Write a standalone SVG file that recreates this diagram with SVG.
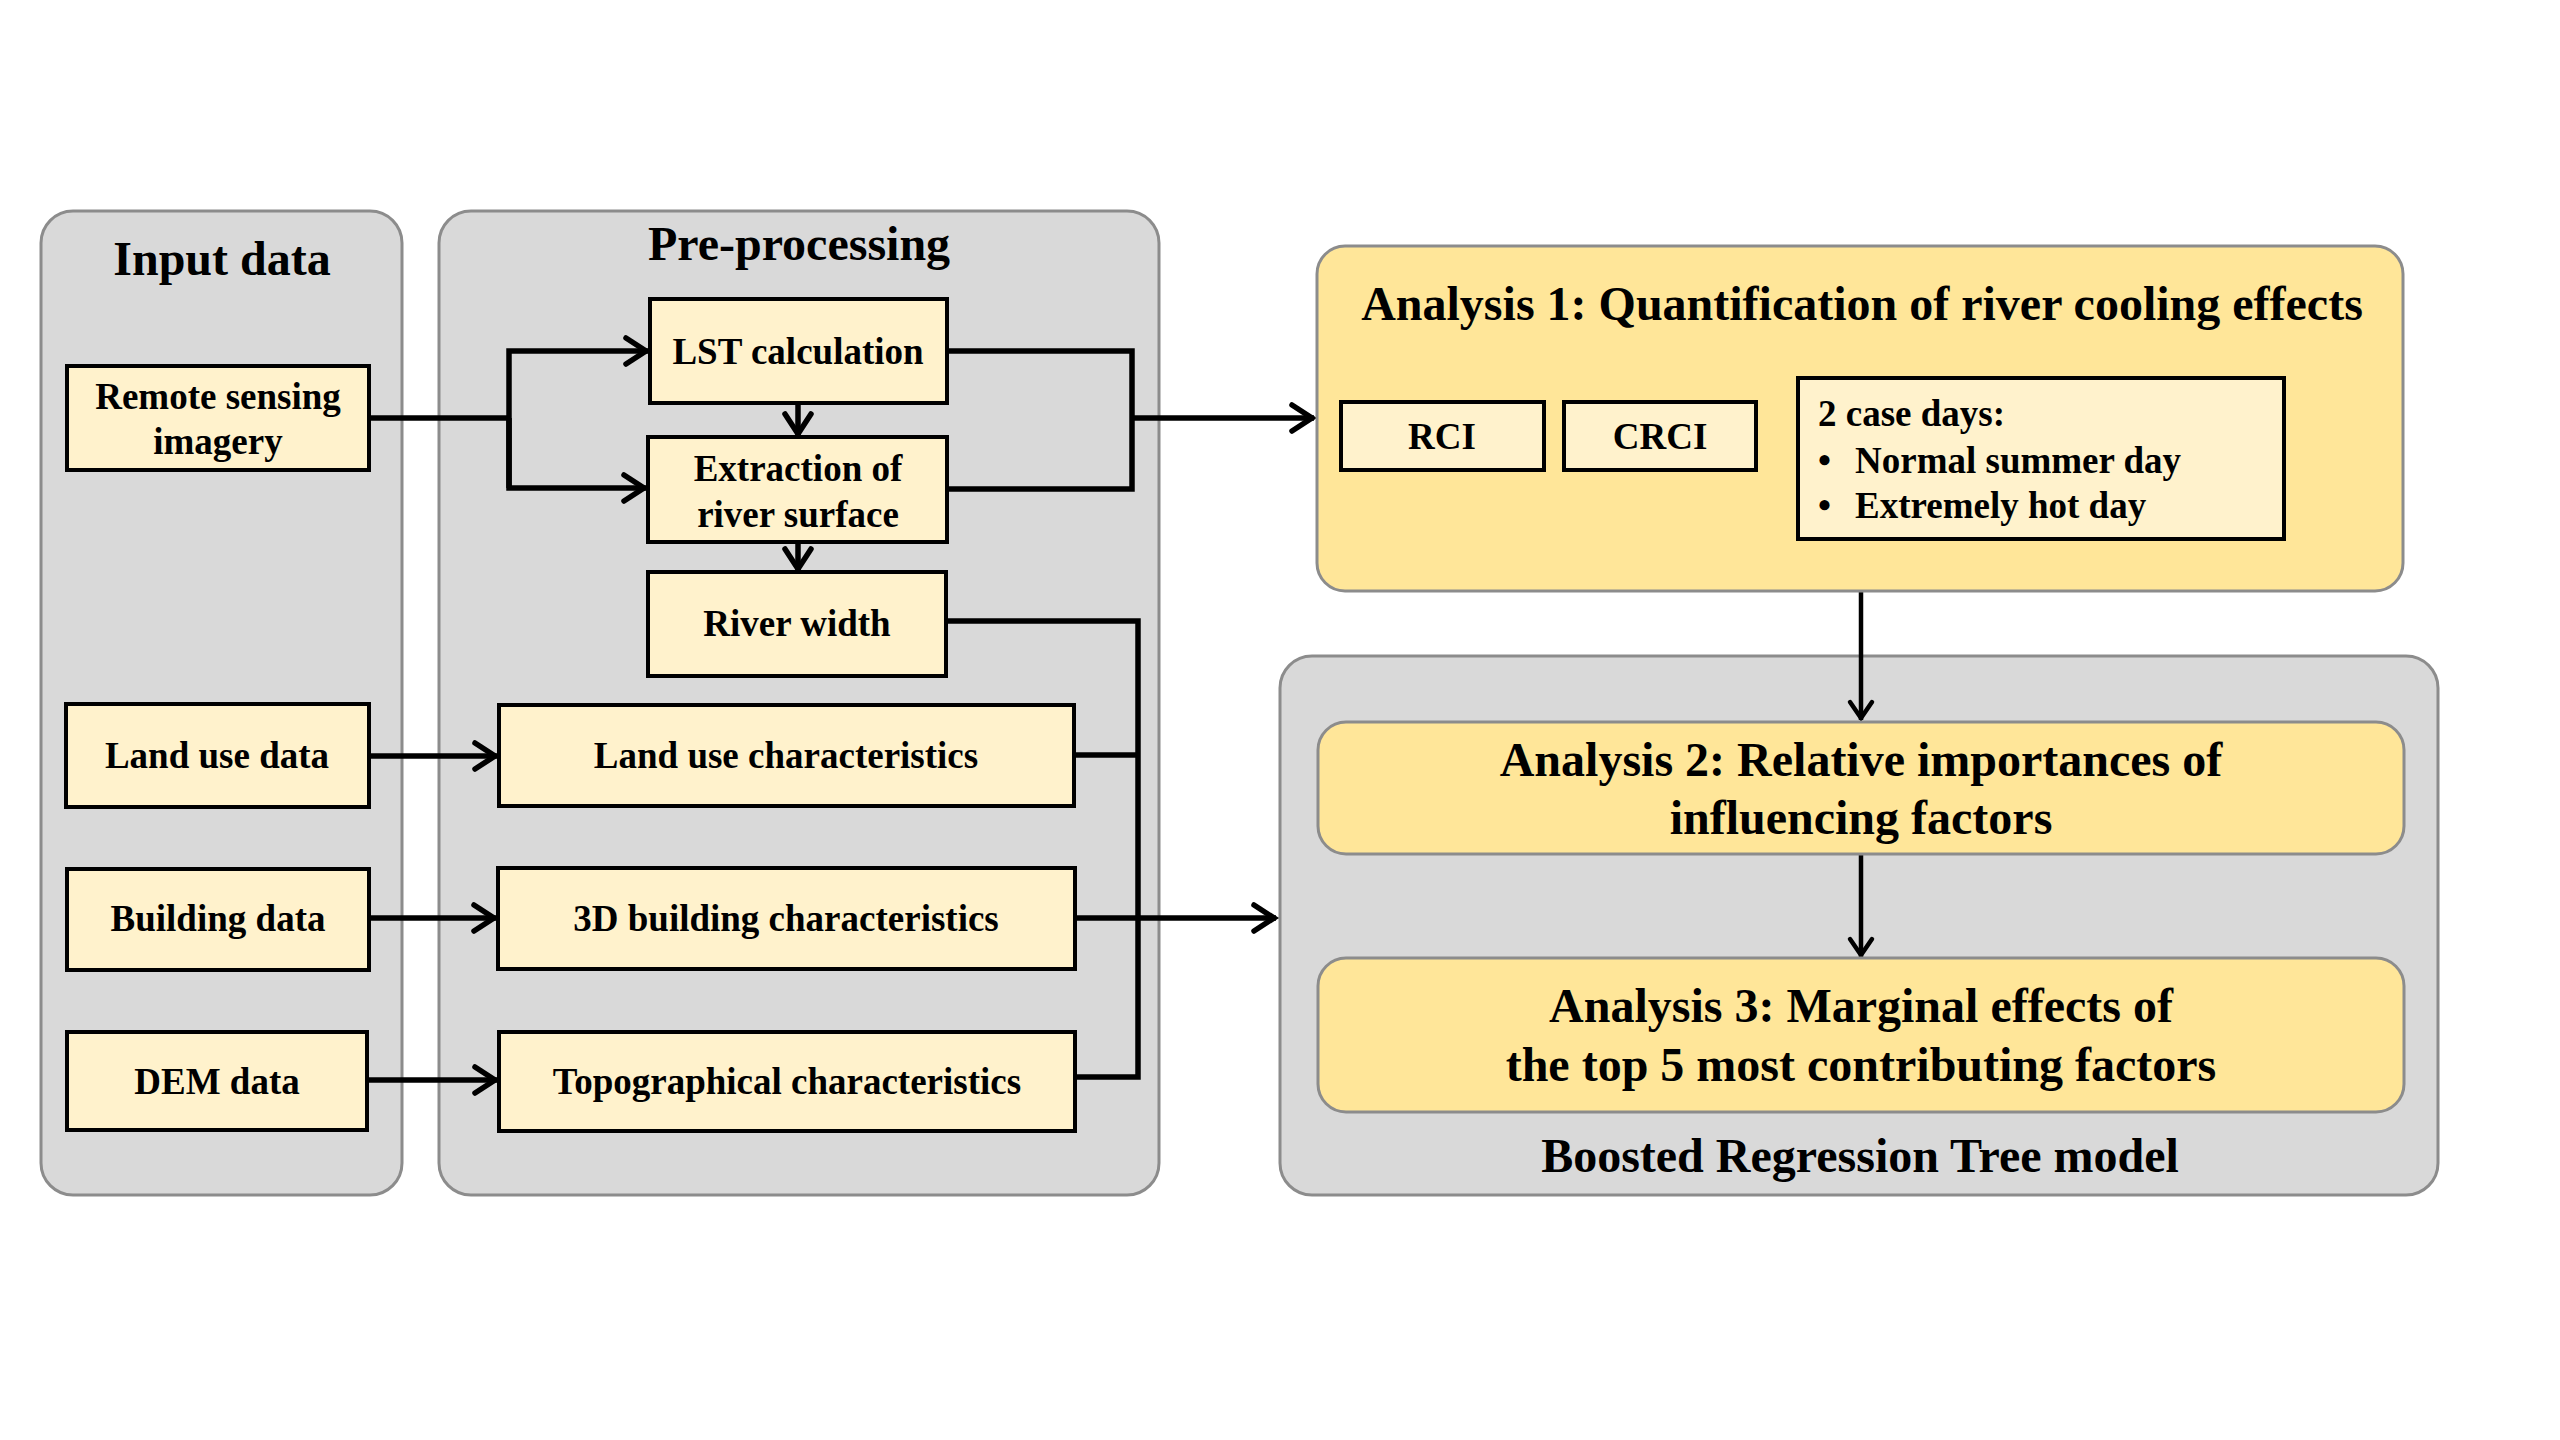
<svg xmlns="http://www.w3.org/2000/svg" width="2560" height="1440" viewBox="0 0 2560 1440">
<defs>
<style>
text{font-family:"Liberation Serif","Times New Roman",serif;font-weight:bold;fill:#000;}
.panel{fill:#d9d9d9;stroke:#8c8c8c;stroke-width:3;}
.gold{fill:#ffe699;stroke:#8c8c8c;stroke-width:3;}
.box{fill:#fff2cc;stroke:#000;stroke-width:4;}
.t47{font-size:48px;text-anchor:middle;}
.t37{font-size:37px;text-anchor:middle;}
.tl{font-size:37px;}
.c{fill:none;stroke:#000;stroke-width:5.5;stroke-linejoin:miter;}
.cs{fill:none;stroke:#000;stroke-width:4.5;}
</style>
<marker id="ah" markerUnits="userSpaceOnUse" markerWidth="40" markerHeight="40" refX="27" refY="16" orient="auto" overflow="visible">
<path d="M 5 3 L 25 16 L 5 29" fill="none" stroke="#000" stroke-width="5.5" stroke-linecap="round"/>
</marker>
<marker id="ahs" markerUnits="userSpaceOnUse" markerWidth="40" markerHeight="40" refX="24" refY="16" orient="auto" overflow="visible">
<path d="M 6 5 L 22 16 L 6 27" fill="none" stroke="#000" stroke-width="4.5" stroke-linecap="round"/>
</marker>
</defs>
<rect width="2560" height="1440" fill="#fff"/>

<g id="panel-input">
<rect class="panel" x="41" y="211" width="361" height="984" rx="32"/>
<text class="t47" x="222" y="275">Input data</text>
</g>
<g id="panel-preprocessing">
<rect class="panel" x="439" y="211" width="720" height="984" rx="32"/>
<text class="t47" x="799" y="260">Pre-processing</text>
</g>
<g id="panel-brt">
<rect class="panel" x="1280" y="656" width="1158" height="539" rx="32"/>
<text class="t47" x="1860" y="1172">Boosted Regression Tree model</text>
</g>

<g id="connectors">
<polyline class="c" points="369,418 509,418"/>
<polyline class="c" points="509,488 509,351 648,351" marker-end="url(#ah)"/>
<polyline class="c" points="509,418 509,488 646,488" marker-end="url(#ah)"/>
<polyline class="c" points="798,403 798,436" marker-end="url(#ah)"/>
<polyline class="c" points="798,542 798,571" marker-end="url(#ah)"/>
<polyline class="c" points="947,351 1132,351 1132,489 947,489"/>
<polyline class="c" points="1132,418 1314,418" marker-end="url(#ah)"/>
<polyline class="c" points="946,621 1138,621 1138,1077 1075,1077"/>
<polyline class="c" points="1074,755 1138,755"/>
<polyline class="c" points="1075,918 1276,918" marker-end="url(#ah)"/>
<polyline class="c" points="369,756 497,756" marker-end="url(#ah)"/>
<polyline class="c" points="369,918 496,918" marker-end="url(#ah)"/>
<polyline class="c" points="367,1080 497,1080" marker-end="url(#ah)"/>
<polyline class="cs" points="1861,592 1861,720" marker-end="url(#ahs)"/>
<polyline class="cs" points="1861,854 1861,957" marker-end="url(#ahs)"/>
</g>

<g id="remote-sensing">
<rect class="box" x="67" y="366" width="302" height="104"/>
<text class="t37" x="218" y="409">Remote sensing</text>
<text class="t37" x="218" y="454">imagery</text>
</g>
<g id="lst">
<rect class="box" x="650" y="299" width="297" height="104"/>
<text class="t37" x="798" y="364">LST calculation</text>
</g>
<g id="extraction">
<rect class="box" x="648" y="437" width="299" height="105"/>
<text class="t37" x="798" y="481">Extraction of</text>
<text class="t37" x="798" y="527">river surface</text>
</g>
<g id="river-width">
<rect class="box" x="648" y="572" width="298" height="104"/>
<text class="t37" x="797" y="636">River width</text>
</g>
<g id="land-use-data">
<rect class="box" x="66" y="704" width="303" height="103"/>
<text class="t37" x="217" y="768">Land use data</text>
</g>
<g id="building-data">
<rect class="box" x="67" y="869" width="302" height="101"/>
<text class="t37" x="218" y="931">Building data</text>
</g>
<g id="dem-data">
<rect class="box" x="67" y="1032" width="300" height="98"/>
<text class="t37" x="217" y="1094">DEM data</text>
</g>
<g id="land-use-char">
<rect class="box" x="499" y="705" width="575" height="101"/>
<text class="t37" x="786" y="768">Land use characteristics</text>
</g>
<g id="building-char">
<rect class="box" x="498" y="868" width="577" height="101"/>
<text class="t37" x="786" y="931">3D building characteristics</text>
</g>
<g id="topo-char">
<rect class="box" x="499" y="1032" width="576" height="99"/>
<text class="t37" x="787" y="1094">Topographical characteristics</text>
</g>

<g id="analysis1">
<rect class="gold" x="1317" y="246" width="1086" height="345" rx="28"/>
<text class="t47" x="1862" y="320">Analysis 1: Quantification of river cooling effects</text>
</g>
<g id="rci">
<rect class="box" x="1341" y="402" width="203" height="68"/>
<text class="t37" x="1442" y="449">RCI</text>
</g>
<g id="crci">
<rect class="box" x="1564" y="402" width="192" height="68"/>
<text class="t37" x="1660" y="449">CRCI</text>
</g>
<g id="case-days">
<rect class="box" x="1798" y="378" width="486" height="161"/>
<text class="tl" x="1818" y="426">2 case days:</text>
<text class="tl" x="1818" y="473">•</text>
<text class="tl" x="1855" y="473">Normal summer day</text>
<text class="tl" x="1818" y="518">•</text>
<text class="tl" x="1855" y="518">Extremely hot day</text>
</g>
<g id="analysis2">
<rect class="gold" x="1318" y="722" width="1086" height="132" rx="28"/>
<text class="t47" x="1861" y="776">Analysis 2: Relative importances of</text>
<text class="t47" x="1861" y="834">influencing factors</text>
</g>
<g id="analysis3">
<rect class="gold" x="1318" y="958" width="1086" height="154" rx="28"/>
<text class="t47" x="1861" y="1022">Analysis 3: Marginal effects of</text>
<text class="t47" x="1861" y="1081">the top 5 most contributing factors</text>
</g>
</svg>
